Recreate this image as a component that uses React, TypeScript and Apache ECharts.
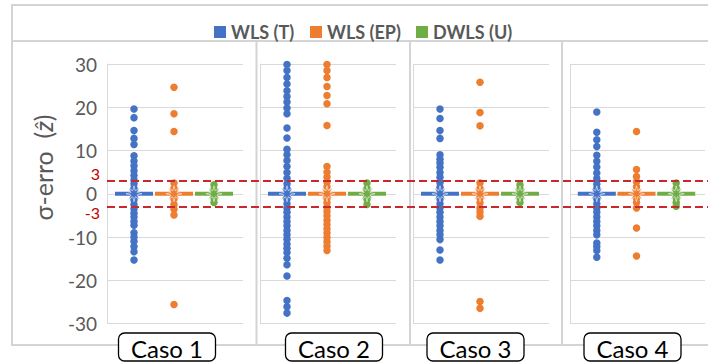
import React, { useEffect, useRef } from 'react';
import * as echarts from 'echarts';

const methods = ['WLS (T)', 'WLS (EP)', 'DWLS (U)'];
const colors = ['#4472C4', '#ED7D31', '#70AD47'];
const cases = ['Caso 1', 'Caso 2', 'Caso 3', 'Caso 4'];
const yTicks = { min: -30, max: 30, interval: 10 };
const thresholds = [3, -3];
const xPos = [1, 2, 3];

const c1T = [19.6, 17.6, 14.6, 12.8, 11.4, 8.8, 7.6, 6.5, 5.3, 4.2, 3.2, 2.3, 1.3, 0.5, 0, -0.6, -1.4, -2.5, -3.5, -4.5, -5.4, -6.4, -7.3, -9, -10, -11, -12.2, -13.4, -15.3];
const c1EP = [24.6, 18.5, 14.4, 2.5, 1.3, 0, -1.2, -2.5, -3.6, -4.9, -25.6];
const c1U = [2.1, 1.0, 0, -1.0, -2.0];

const c2T = [29.9, 28.5, 26.9, 25.4, 23.8, 22.5, 21.2, 19.8, 18.5, 15.2, 12.9, 10.3, 9.0, 7.7, 6.3, 4.9, 3.6, 2.3, 1.2, 0, -1.2, -2.3, -3.3, -4.3, -5.4, -6.4, -7.4, -8.5, -9.5, -10.5, -11.6, -12.6, -13.6, -14.9, -16.4, -19.0, -24.7, -26.1, -27.6];
const c2EP = [29.9, 28.5, 26.9, 24.8, 22.7, 20.8, 15.8, 6.3, 5.0, 3.9, 2.7, 1.6, 0, -1.1, -2.1, -3.2, -4.1, -5.1, -6.1, -7.1, -8.1, -9.1, -10.1, -11.1, -12.1, -13.1];
const c2U = [2.5, 1.2, 0, -1.3, -2.5];

const c3T = [19.6, 17.4, 14.6, 12.8, 9.0, 8.0, 7.1, 6.1, 4.9, 3.8, 2.6, 1.5, 0, -1.2, -2.3, -3.3, -4.3, -5.4, -6.4, -7.4, -8.5, -9.5, -10.6, -13.0, -15.3];
const c3EP = [25.8, 18.8, 15.7, 2.5, 1.2, 0, -1.0, -2.1, -3.3, -4.2, -5.2, -24.9, -26.5];
const c3U = [2.1, 1.1, 0, -1.0, -2.0];

const c4T = [18.9, 14.2, 12.5, 10.9, 8.9, 7.5, 6.2, 4.8, 3.5, 2.2, 1.2, 0, -1.2, -2.3, -3.3, -4.3, -5.4, -6.4, -7.4, -8.5, -9.5, -11.4, -12.2, -13.1, -14.7];
const c4EP = [14.4, 5.6, 4.0, 2.8, 1.6, 0, -1.0, -2.0, -3.3, -7.9, -14.4];
const c4U = [2.5, 1.3, 0, -1.0, -2.0, -2.9];

const caseData = [
  [c1T, c1EP, c1U],
  [c2T, c2EP, c2U],
  [c3T, c3EP, c3U],
  [c4T, c4EP, c4U],
];
const centers = [
  [0, 0, 0],
  [0, 0, 0],
  [0, 0, 0],
  [0, 0, 0],
];

const STAR =
  'path://M50 0L57.65 31.52L85.36 14.64L68.48 42.35L100 50L68.48 57.65L85.36 85.36L57.65 68.48L50 100L42.35 68.48L14.64 85.36L31.52 57.65L0 50L31.52 42.35L14.64 14.64L42.35 31.52Z';

const FONT = "Lato, 'DejaVu Sans', sans-serif";
const GRID_TOP = 64;
const GRID_H = 259.5;
const gridLefts = [107, 260, 413, 570];
const gridWidths = [136, 136, 136, 135];
const boxCenters = [167, 334, 475.5, 632.5];
const BORDER = '#D4D4D4';

export default function App() {
  const ref = useRef<HTMLDivElement>(null);
  useEffect(() => {
    const chart = echarts.init(ref.current!, null, { renderer: 'svg' });

    const grids: any[] = gridLefts.map((l, i) => ({
      left: l,
      top: GRID_TOP,
      width: gridWidths[i],
      height: GRID_H,
      containLabel: false,
    }));
    grids.push({ left: 107, top: GRID_TOP, width: 601, height: GRID_H });

    const xAxes: any[] = gridLefts.map((_, i) => ({
      type: 'value',
      gridIndex: i,
      min: 0.325,
      max: 3.725,
      show: false,
    }));
    xAxes.push({ type: 'value', gridIndex: 4, min: 0, max: 1, show: false });

    const yAxes: any[] = gridLefts.map((_, i) => ({
      type: 'value',
      gridIndex: i,
      min: yTicks.min,
      max: yTicks.max,
      interval: yTicks.interval,
      axisLine: { show: true, lineStyle: { color: '#D9D9D9', width: 1 } },
      axisTick: { show: false },
      splitLine: { show: true, lineStyle: { color: '#D9D9D9', width: 1 } },
      axisLabel: {
        show: i === 0,
        color: '#595959',
        fontSize: 19,
        fontFamily: FONT,
        margin: 10,
      },
    }));
    yAxes.push({ type: 'value', gridIndex: 4, min: yTicks.min, max: yTicks.max, show: false });

    const series: any[] = [];
    caseData.forEach((cd, ci) => {
      cd.forEach((vals, mi) => {
        series.push({
          type: 'scatter',
          name: methods[mi],
          xAxisIndex: ci,
          yAxisIndex: ci,
          data: vals.map((v) => [xPos[mi], v]),
          symbol: 'circle',
          symbolSize: 7.5,
          itemStyle: { color: colors[mi], opacity: 1 },
          silent: true,
          z: 2,
        });
        series.push({
          type: 'scatter',
          name: methods[mi],
          xAxisIndex: ci,
          yAxisIndex: ci,
          data: [[xPos[mi], centers[ci][mi]]],
          symbol: 'rect',
          symbolSize: [38, 4],
          itemStyle: { color: colors[mi], opacity: 1 },
          silent: true,
          z: 3,
        });
        series.push({
          type: 'scatter',
          name: methods[mi],
          xAxisIndex: ci,
          yAxisIndex: ci,
          data: [[xPos[mi], centers[ci][mi]]],
          symbol: STAR,
          symbolSize: 16,
          itemStyle: { color: colors[mi], opacity: 1, borderColor: 'rgba(255,255,255,0.7)', borderWidth: 0.8 },
          silent: true,
          z: 4,
        });
      });
    });

    series.push({
      type: 'scatter',
      name: 'limits',
      xAxisIndex: 4,
      yAxisIndex: 4,
      data: [[0.5, 0]],
      symbolSize: 0,
      silent: true,
      z: 6,
      markLine: {
        silent: true,
        symbol: ['none', 'none'],
        lineStyle: { color: '#C9282D', width: 2, type: [8, 4] },
        data: thresholds.map((t) => ({
          yAxis: t,
          label: {
            show: true,
            formatter: String(t),
            position: 'start',
            distance: 7,
            offset: [0, t > 0 ? -7 : 6],
            color: '#C00000',
            fontSize: 16,
            fontFamily: FONT,
          },
        })),
      },
    });

    const legendLefts = [209, 305, 411];
    const legends = methods.map((m, i) => ({
      data: [m],
      left: legendLefts[i],
      top: 18,
      icon: 'rect',
      itemWidth: 12,
      itemHeight: 12,
      selectedMode: false,
      textStyle: { color: '#595959', fontSize: 18, fontWeight: 'bold', fontFamily: FONT },
    }));

    const graphics: any[] = [
      { type: 'rect', shape: { x: 12, y: 5, width: 720, height: 340 }, style: { fill: 'none', stroke: BORDER, lineWidth: 2 }, z: -1, silent: true },
      { type: 'line', shape: { x1: 12, y1: 41, x2: 720, y2: 41 }, style: { stroke: BORDER, lineWidth: 2 }, z: -1, silent: true },
      ...[256.5, 410, 562].map((x) => ({
        type: 'line',
        shape: { x1: x, y1: 41, x2: x, y2: 345 },
        style: { stroke: BORDER, lineWidth: 2 },
        z: -1,
        silent: true,
      })),
      {
        type: 'text',
        x: 43,
        y: 167.5,
        rotation: Math.PI / 2,
        silent: true,
        style: {
          text: '{a|σ-erro  (}{i|ẑ}{a|)}',
          align: 'center',
          verticalAlign: 'middle',
          rich: {
            a: { fontSize: 25, fontFamily: FONT, fill: '#595959', color: '#595959' },
            i: { fontSize: 25, fontFamily: FONT, fontStyle: 'italic', fill: '#595959', color: '#595959' },
          },
        },
      },
      ...cases.map((c, i) => ({
        type: 'group',
        silent: true,
        z: 10,
        children: [
          {
            type: 'rect',
            shape: { x: boxCenters[i] - 48.5, y: 333, width: 97, height: 28, r: 6 },
            style: { fill: '#fff', stroke: '#000', lineWidth: 1.3 },
          },
          {
            type: 'text',
            x: boxCenters[i],
            y: 348,
            style: {
              text: c,
              align: 'center',
              verticalAlign: 'middle',
              fontSize: 24,
              fontFamily: FONT,
              fill: '#000',
            },
          },
        ],
      })),
    ];

    chart.setOption({
      animation: false,
      backgroundColor: '#fff',
      grid: grids,
      xAxis: xAxes,
      yAxis: yAxes,
      legend: legends,
      series,
      graphic: graphics,
    });
    return () => chart.dispose();
  }, []);
  return (
    <div
      ref={ref}
      style={{ position: 'fixed', left: 0, top: 0, width: 708, height: 363, background: '#fff' }}
    />
  );
}
